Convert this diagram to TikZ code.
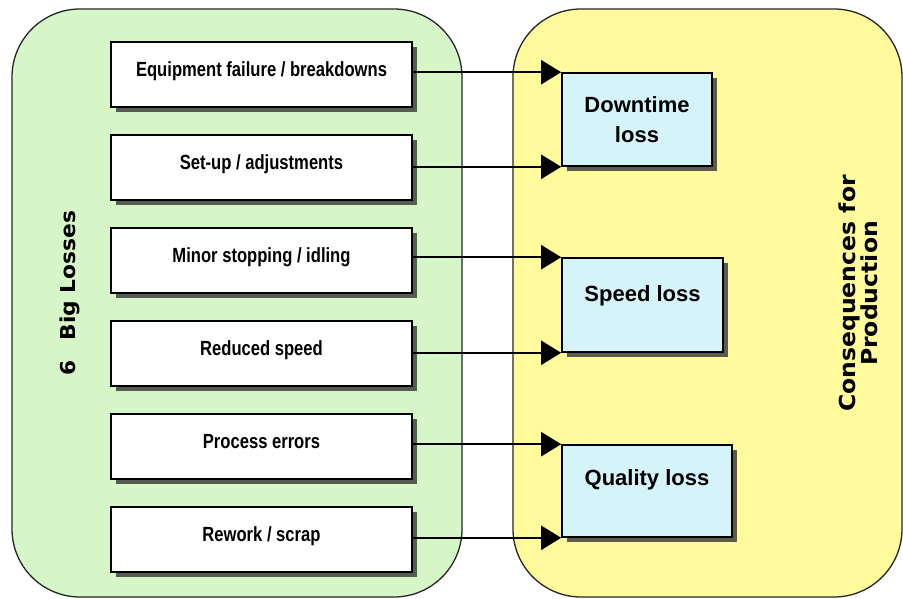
\documentclass[tikz,border=0pt]{standalone}
\usepackage{fontspec}
\setmainfont{Liberation Sans}
\newfontfamily\widefont{DejaVu Sans}
\usetikzlibrary{arrows.meta,shadows}

\definecolor{panelgreen}{RGB}{214,246,200}
\definecolor{panelyellow}{RGB}{255,250,155}
\definecolor{lossblue}{RGB}{212,244,250}

\newcommand{\narrowtext}[1]{\scalebox{0.81}[1]{#1}}
\newcommand{\longtext}[2]{\scalebox{#1}[1]{#2}}

\tikzset{
  panel/.style={draw=black!85, line width=1.3pt, rounded corners=68pt, inner sep=0pt},
  boxshadow/.style={drop shadow={shadow xshift=5pt, shadow yshift=-5pt, fill=black!75, opacity=0.85}},
  lossbox/.style={draw=black, line width=1.6pt, fill=white, boxshadow,
    minimum width=301pt, minimum height=65pt, inner sep=0pt,
    font=\fontsize{20.5}{24}\selectfont\bfseries, text height=15pt, text depth=10.5pt},
  effectbox/.style={draw=black, line width=1.6pt, fill=lossblue, boxshadow,
    inner sep=0pt, align=center, font=\fontsize{22}{30}\selectfont\bfseries},
  sidelabel/.style={rotate=90, align=center, inner sep=0pt},
  flow/.style={draw=black, line width=2.2pt, -{Triangle[length=20pt,width=24pt]}}
}

\begin{document}
\begin{tikzpicture}[x=1pt,y=-1pt]
\useasboundingbox (0,0) rectangle (903,599);
\fill[white] (0,0) rectangle (903,599);

% the two panels
\node[panel, fill=panelgreen, minimum width=450pt, minimum height=588pt] (causes) at (237,303) {};
\node[panel, fill=panelyellow, minimum width=389pt, minimum height=588pt] (effects) at (707.5,303) {};

\node[sidelabel, font=\widefont\bfseries\fontsize{20.5}{20}\selectfont] (causelabel) at (70,293)
  {\longtext{1.06}{6\hspace{0.9em}Big Losses}};
\node[sidelabel, font=\widefont\bfseries\fontsize{22}{22.5}\selectfont] (effectlabel) at (858.5,293.5)
  {\longtext{1.07}{Consequences for}\\\longtext{1.07}{Production}};

% the six losses
\node[lossbox] (l1) at (261.5,74.5)  {\narrowtext{Equipment failure / breakdowns}};
\node[lossbox] (l2) at (261.5,167.5) {\narrowtext{Set-up / adjustments}};
\node[lossbox] (l3) at (261.5,260.5) {\narrowtext{Minor stopping / idling}};
\node[lossbox] (l4) at (261.5,353.5) {\narrowtext{Reduced speed}};
\node[lossbox] (l5) at (261.5,446.5) {\narrowtext{Process errors}};
\node[lossbox] (l6) at (261.5,539.5) {\narrowtext{Rework / scrap}};

% consequences
\node[effectbox, minimum width=150pt, minimum height=93pt] (down) at (637,119.5) {Downtime\\loss};
\node[effectbox, minimum width=161pt, minimum height=94pt, text height=16pt, text depth=24pt] (speed) at (642.5,305) {Speed loss};
\node[effectbox, minimum width=170pt, minimum height=92pt, text height=16pt, text depth=27pt] (quality) at (647,491) {Quality loss};

% connectors
\draw[flow] (l1.east |- down.north west) -- (down.north west);
\draw[flow] (l2.east |- down.south west) -- (down.south west);
\draw[flow] (l3.east |- speed.north west) -- (speed.north west);
\draw[flow] (l4.east |- speed.south west) -- (speed.south west);
\draw[flow] (l5.east |- quality.north west) -- (quality.north west);
\draw[flow] (l6.east |- quality.south west) -- (quality.south west);
\end{tikzpicture}
\end{document}
